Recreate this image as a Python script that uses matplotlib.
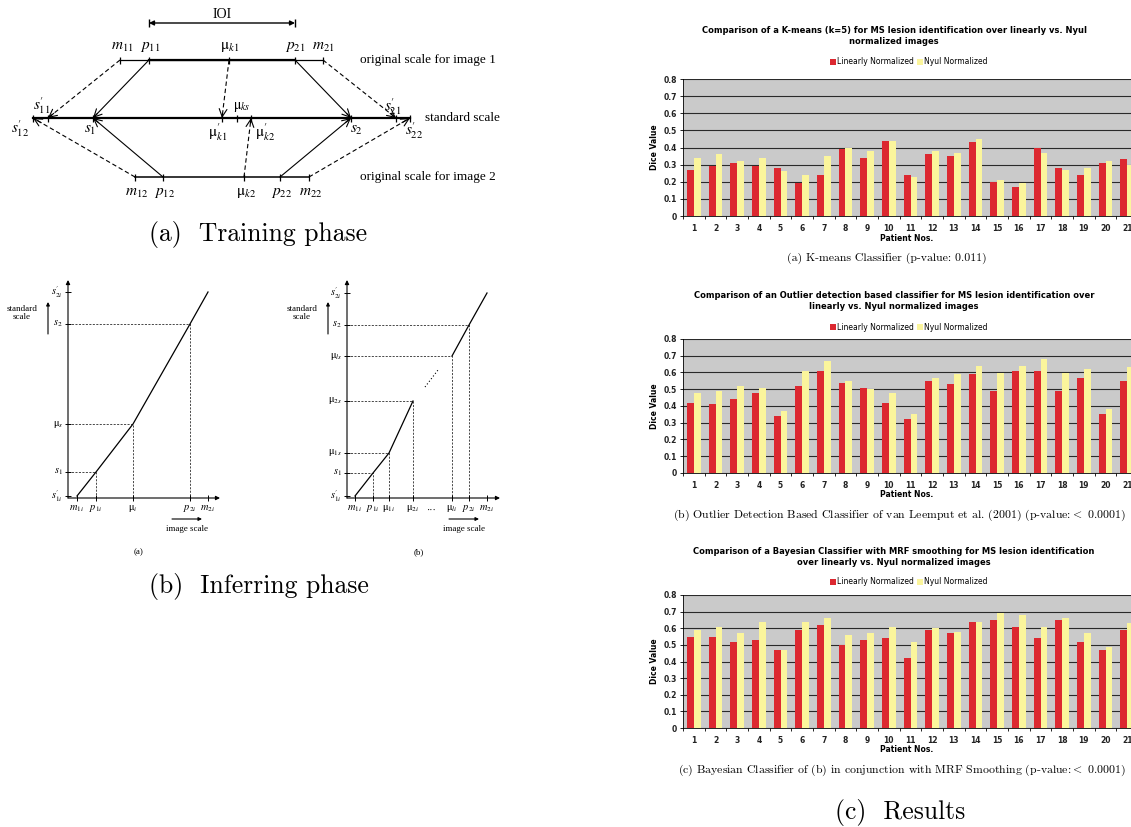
import numpy as np
import matplotlib.pyplot as plt

# ---- bar chart data (Dice values per patient) ----
patients = np.arange(1, 22)
kmeans_lin = [0.27, 0.29, 0.31, 0.29, 0.28, 0.19, 0.24, 0.39, 0.34, 0.44, 0.24,
              0.36, 0.35, 0.43, 0.20, 0.17, 0.40, 0.28, 0.24, 0.31, 0.33]
kmeans_nyul = [0.34, 0.36, 0.32, 0.34, 0.26, 0.24, 0.35, 0.40, 0.38, 0.44, 0.23,
               0.38, 0.37, 0.45, 0.21, 0.19, 0.37, 0.27, 0.28, 0.32, 0.30]
outlier_lin = [0.42, 0.41, 0.44, 0.48, 0.34, 0.52, 0.61, 0.54, 0.51, 0.42, 0.32,
               0.55, 0.53, 0.59, 0.49, 0.61, 0.61, 0.49, 0.57, 0.35, 0.55]
outlier_nyul = [0.48, 0.49, 0.52, 0.51, 0.37, 0.61, 0.67, 0.55, 0.50, 0.48, 0.35,
                0.57, 0.59, 0.64, 0.60, 0.64, 0.68, 0.60, 0.62, 0.38, 0.63]
bayes_lin = [0.55, 0.55, 0.52, 0.53, 0.47, 0.59, 0.62, 0.50, 0.53, 0.54, 0.42,
             0.59, 0.57, 0.64, 0.65, 0.61, 0.54, 0.65, 0.52, 0.47, 0.59]
bayes_nyul = [0.59, 0.61, 0.57, 0.64, 0.47, 0.64, 0.66, 0.56, 0.57, 0.61, 0.52,
              0.60, 0.58, 0.64, 0.69, 0.68, 0.61, 0.66, 0.57, 0.49, 0.63]
series_names = ["Linearly Normalized", "Nyul Normalized"]

titles = [
    "Comparison of a K-means (k=5) for MS lesion identification over linearly vs. Nyul\nnormalized images",
    "Comparison of an Outlier detection based classifier for MS lesion identification over\nlinearly vs. Nyul normalized images",
    "Comparison of a Bayesian Classifier with MRF smoothing for MS lesion identification\nover linearly vs. Nyul normalized images",
]
captions = [
    "(a) K-means Classifier (p-value: 0.011)",
    "(b) Outlier Detection Based Classifier of van Leemput et al. (2001) (p-value:$<$ 0.0001)",
    "(c) Bayesian Classifier of (b) in conjunction with MRF Smoothing (p-value:$<$ 0.0001)",
]

# ---- schematic (training phase): tick positions on the three scales ----
img1_ticks = [r"m_{11}", r"p_{11}", r"\mathrm{μ}_{k1}", r"p_{21}", r"m_{21}"]
img1_pos = [120, 149, 229, 295, 323]
img2_ticks = [r"m_{12}", r"p_{12}", r"\mathrm{μ}_{k2}", r"p_{22}", r"m_{22}"]
img2_pos = [135, 163, 244, 280, 309]
std_ticks = ["s'12", "s'11", "s1", "mk1", "mks", "mk2", "s2", "s'21", "s'22"]
std_pos = [33, 48, 93, 222, 237, 251, 351, 396, 410]

# ---- schematic (inferring phase): landmarks on image / standard scale ----
infA_x = [77, 96, 133, 190, 208]
infA_y = [496, 472, 424, 324, 292]
infA_xlab = [r"m_{1i}", r"p_{1i}", r"\mathrm{μ}_i", r"p_{2i}", r"m_{2i}"]
infA_ylab = [r"s^{\prime}_{1i}", r"s_1", r"\mathrm{μ}_s", r"s_2", r"s^{\prime}_{2i}"]
infB_x = [355, 373, 389, 413, 452, 469, 487]
infB_y = [496, 473, 453, 401, 356, 325, 293]
infB_xlab = [r"m_{1i}", r"p_{1i}", r"\mathrm{μ}_{1i}", r"\mathrm{μ}_{2i}", r"\mathrm{μ}_{li}", r"p_{2i}", r"m_{2i}"]
infB_ylab = [r"s^{\prime}_{1i}", r"s_1", r"\mathrm{μ}_{1s}", r"\mathrm{μ}_{2s}", r"\mathrm{μ}_{ls}", r"s_2", r"s^{\prime}_{2i}"]

W, H = 1131, 827
fig = plt.figure(figsize=(W / 100, H / 100), dpi=100)
fig.patch.set_facecolor("white")

# pixel overlay for the schematics
ax0 = fig.add_axes([0, 0, 1, 1])
ax0.set_xlim(0, W)
ax0.set_ylim(H, 0)
ax0.axis("off")

MF = "stix"
serif = "Liberation Serif"


def lab(x, y, s, size=11, ha="center", va="center"):
    ax0.text(x, y, "$" + s + "$", fontsize=size, ha=ha, va=va,
             math_fontfamily=MF, family=serif)


def arrow(p0, p1, dashed=False, lw=0.8):
    ax0.plot([p0[0], p1[0]], [p0[1], p1[1]], color="k", lw=lw,
             ls=(0, (4, 2.5)) if dashed else "-")
    q = (p1[0] - (p1[0] - p0[0]) * 0.08, p1[1] - (p1[1] - p0[1]) * 0.08)
    ax0.annotate("", xy=p1, xytext=q,
                 arrowprops=dict(arrowstyle="->", lw=lw, color="k",
                                 shrinkA=0, shrinkB=0, mutation_scale=14))


def ticks_h(pos, y, h=3.5):
    ax0.vlines(pos, y - h, y + h, color="k", lw=0.9)


# ----- (a) training phase -----
yi1, ystd, yi2 = 60, 118, 177
ax0.plot([img1_pos[0], img1_pos[-1]], [yi1, yi1], color="k", lw=0.9)
ax0.plot([img1_pos[1], img1_pos[3]], [yi1, yi1], color="k", lw=1.6)
ax0.plot([img2_pos[0], img2_pos[-1]], [yi2, yi2], color="k", lw=1.1)
ax0.plot([std_pos[0], std_pos[-1]], [ystd, ystd], color="k", lw=1.6)
ticks_h(img1_pos, yi1)
ticks_h(img2_pos, yi2)
ticks_h(std_pos, ystd)

# IOI
ax0.annotate("", xy=(img1_pos[3], 23), xytext=(img1_pos[1], 23),
             arrowprops=dict(arrowstyle="<|-|>", lw=1.0, color="k",
                             shrinkA=0, shrinkB=0, mutation_scale=7))
ax0.vlines([img1_pos[1], img1_pos[3]], 19, 27, color="k", lw=1.0)
ax0.text(222, 15, "IOI", fontsize=10, ha="center", va="center", family=serif)

for s, x, dx in zip(img1_ticks, img1_pos, [2, 1, 1, 0, 0]):
    lab(x + dx, 47, s)
for s, x in zip(img2_ticks, img2_pos):
    lab(x + 2, 193, s)

ax0.text(360, yi1, "original scale for image 1", fontsize=9.5, va="center", family=serif)
ax0.text(425, ystd, "standard scale", fontsize=9.5, va="center", family=serif)
ax0.text(360, yi2, "original scale for image 2", fontsize=9.5, va="center", family=serif)

# mappings image scales -> standard scale
sp = dict(zip(std_ticks, std_pos))
arrow((img1_pos[1], yi1), (sp["s1"], ystd))
arrow((img1_pos[3], yi1), (sp["s2"], ystd))
arrow((img2_pos[1], yi2), (sp["s1"], ystd))
arrow((img2_pos[3], yi2), (sp["s2"], ystd))
arrow((img1_pos[0], yi1), (sp["s'11"], ystd), dashed=True)
arrow((img1_pos[4], yi1), (sp["s'21"], ystd), dashed=True)
arrow((img2_pos[0], yi2), (sp["s'12"], ystd), dashed=True)
arrow((img2_pos[4], yi2), (sp["s'22"], ystd), dashed=True)
arrow((img1_pos[2], yi1), (sp["mk1"], ystd), dashed=True)
arrow((img2_pos[2], yi2), (sp["mk2"], ystd), dashed=True)

lab(42, 106, r"s^{\prime}_{11}")
lab(20, 129, r"s^{\prime}_{12}")
lab(90, 130, r"s_1")
lab(218, 132, r"\mathrm{μ}^{\prime}_{k1}")
lab(242, 107, r"\mathrm{μ}_{ks}", size=10)
lab(265, 132, r"\mathrm{μ}^{\prime}_{k2}")
lab(356, 130, r"s_2")
lab(393, 107, r"s^{\prime}_{21}")
lab(414, 131, r"s^{\prime}_{22}")

ax0.text(258, 235, "(a)  Training phase", fontsize=18.5, ha="center", va="center",
         family="cmr10")


# ----- (b) inferring phase -----
def infer(x0, xr, xs, ys, xl, yl, pieces, sx, ix, cap):
    yb, yt = 498, 280
    ax0.annotate("", xy=(x0, yt), xytext=(x0, yb),
                 arrowprops=dict(arrowstyle="-|>", lw=0.8, color="k",
                                 shrinkA=0, shrinkB=0, mutation_scale=6))
    ax0.annotate("", xy=(xr, yb), xytext=(x0, yb),
                 arrowprops=dict(arrowstyle="-|>", lw=0.8, color="k",
                                 shrinkA=0, shrinkB=0, mutation_scale=6))
    ax0.vlines(xs, yb - 3, yb + 3, color="k", lw=0.7)
    ax0.hlines(ys, x0 - 3, x0 + 3, color="k", lw=0.7)
    for a, b in pieces:
        ax0.plot(xs[a:b], ys[a:b], color="k", lw=0.9)
    for x, y in zip(xs[1:-1], ys[1:-1]):
        ax0.plot([x0, x, x], [y, y, yb], color="k", lw=0.5, ls=(0, (3, 2)))
    for x, s in zip(xs, xl):
        lab(x, 509, s, size=7.5)
    for y, s in zip(ys, yl):
        lab(x0 - 5, y, s, size=7.5, ha="right")
    ax0.text(sx, 313, "standard\nscale", fontsize=6.5, ha="center", va="center",
             family=serif, linespacing=1.0)
    ax0.annotate("", xy=(sx + 26, 302), xytext=(sx + 26, 334),
                 arrowprops=dict(arrowstyle="-|>", lw=0.8, color="k",
                                 shrinkA=0, shrinkB=0, mutation_scale=5))
    ax0.annotate("", xy=(ix + 15, 519), xytext=(ix - 15, 519),
                 arrowprops=dict(arrowstyle="-|>", lw=0.8, color="k",
                                 shrinkA=0, shrinkB=0, mutation_scale=5))
    ax0.text(ix, 529, "image scale", fontsize=6.5, ha="center", va="center", family=serif)
    ax0.text((x0 + xr) / 2 - 5, 552, cap, fontsize=6.5, ha="center", va="center",
             family=serif)


infer(68, 220, infA_x, infA_y, infA_xlab, infA_ylab, [(0, 5)], 22, 187, "(a)")
infer(347, 500, infB_x, infB_y, infB_xlab, infB_ylab, [(0, 4), (4, 7)], 302, 464, "(b)")
ax0.plot([425, 438], [387, 370], color="k", lw=0.8, ls=(0, (1, 2)))
ax0.text(432, 510, "···", fontsize=7, ha="center", va="center", family=serif)

ax0.text(259, 586, "(b)  Inferring phase", fontsize=18.5, ha="center", va="center",
         family="cmr10")

# ----- (c) results: three bar charts -----
RED = "#dc2830"
YEL = "#fbf59c"
BG = "#cacaca"
chart_y = [(216, 79), (473, 339), (728, 595)]
title_y = [36, 301, 557]
legend_y = [62, 327, 582]
cap_x = [887, 899, 902]
data = [(kmeans_lin, kmeans_nyul), (outlier_lin, outlier_nyul), (bayes_lin, bayes_nyul)]
x_left, x_right = 683, 1138
bw = 0.31

for i, (lin, nyul) in enumerate(data):
    y0, y1 = chart_y[i]
    ax = fig.add_axes([x_left / W, 1 - y0 / H, (x_right - x_left) / W, (y0 - y1) / H])
    ax.set_facecolor(BG)
    b1 = ax.bar(patients - bw / 2, lin, width=bw, color=RED, zorder=3)
    b2 = ax.bar(patients + bw / 2, nyul, width=bw, color=YEL, zorder=3)
    ax.set_xlim(0.5, 21.5)
    ax.set_ylim(0, 0.8)
    ax.set_yticks(np.arange(0, 0.81, 0.1))
    ax.set_yticklabels(["0"] + ["%.1f" % v for v in np.arange(0.1, 0.81, 0.1)])
    ax.yaxis.grid(True, color="#2a2a2a", lw=0.8, zorder=1)
    ax.set_axisbelow(True)
    ax.set_xticks(patients)
    ax.set_xticklabels([str(p) for p in patients])
    ax.set_xticks(np.arange(0.5, 22, 1), minor=True)
    ax.tick_params(axis="x", which="major", length=0, pad=6, labelsize=5.5)
    ax.tick_params(axis="x", which="minor", length=2.5, width=0.6)
    ax.tick_params(axis="y", length=2.5, width=0.6, pad=2, labelsize=5.5)
    for t in ax.get_xticklabels() + ax.get_yticklabels():
        t.set_fontweight("bold")
        t.set_color("#222222")
    for s in ["top", "right"]:
        ax.spines[s].set_visible(False)
    ax.spines["left"].set_linewidth(0.6)
    ax.spines["bottom"].set_linewidth(0.6)
    ax.set_ylabel("Dice Value", fontsize=5.5, fontweight="bold", labelpad=3)

    fig.text(894 / W, 1 - title_y[i] / H, titles[i], fontsize=6, fontweight="bold",
             ha="center", va="center", linespacing=1.3)
    fig.legend([b1, b2], series_names, loc="center", ncol=2, frameon=False,
               bbox_to_anchor=(909 / W, 1 - legend_y[i] / H), fontsize=5.5,
               handlelength=0.7, handleheight=0.7, handletextpad=0.2,
               columnspacing=0.4, borderpad=0)
    fig.text(907 / W, 1 - (y0 + 22) / H, "Patient Nos.", fontsize=5.5,
             fontweight="bold", ha="center", va="center")
    fig.text(cap_x[i] / W, 1 - (y0 + 42) / H, captions[i], fontsize=8.5,
             ha="center", va="center", family="cmr10", math_fontfamily="cm")

fig.text(900 / W, 1 - 812 / H, "(c)  Results", fontsize=18.5, ha="center", va="center",
         family="cmr10")

fig.savefig("out.png", dpi=100)
